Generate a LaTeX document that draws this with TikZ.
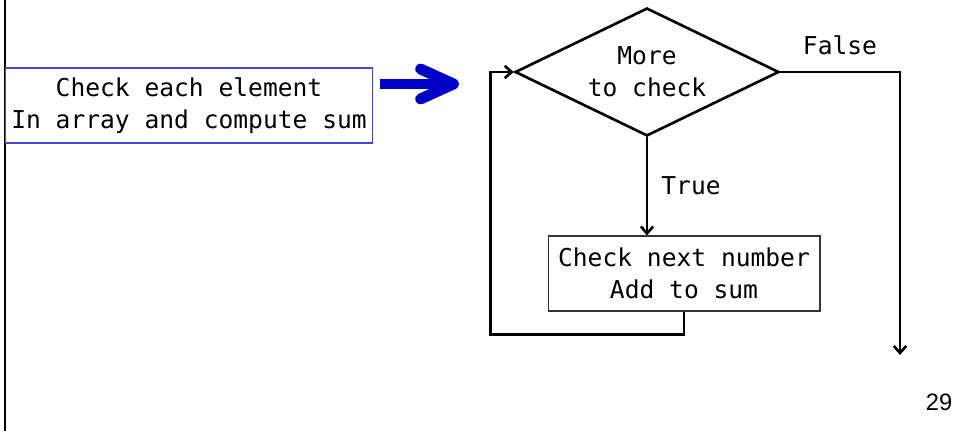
\documentclass[tikz,border=0pt]{standalone}
\usepackage{fontspec}
\setmainfont{Liberation Sans}
\setmonofont{DejaVu Sans Mono}
\usetikzlibrary{calc,arrows.meta,shapes.geometric}
\definecolor{arrowblue}{RGB}{0,0,200}
\definecolor{boxblue}{RGB}{70,70,220}

\begin{document}
\begin{tikzpicture}[x=0.02cm, y=-0.02cm,
	txt/.style={font=\ttfamily\fontsize{14}{18.1}\selectfont, align=center, inner sep=0pt},
	plainbox/.style={txt, draw=black!80, line width=0.6pt, minimum width=5.44cm, minimum height=1.5cm},
	bluebox/.style={txt, draw=boxblue, line width=0.6pt, minimum width=7.36cm, minimum height=1.5cm},
	decision/.style={txt, diamond, draw, line width=1.5pt, aspect=2, minimum width=5.28cm, minimum height=2.56cm},
	flow/.style={line width=1.5pt, -{Straight Barb[length=4pt,width=7pt]}},
	bigshaft/.style={line width=6.2pt, draw=arrowblue},
	bighead/.style={line width=6.2pt, draw=arrowblue, line cap=round, line join=round}]
			%%%%% START %%%%%
			
			\useasboundingbox (0,0) rectangle (953,431);
			
			\draw[line width=1.5pt] (5,0) -- (5,431);
			
			\node[bluebox] (entry) at (189,105.5) {Check each element\\In array and compute sum};
			
			\draw[bigshaft] ($(entry.east)+(7,-21.5)$) -- ++(72,0) coordinate (bigtip);
			\draw[bighead] ($(bigtip)+(-32,-15)$) -- ($(bigtip)+(1,0)$) -- ($(bigtip)+(-32,15)$);
			
			\node[decision] (check) at (647,72) {More\\to check};
			\node[plainbox] (work) at (684,273.5) {Check next number\\Add to sum};
			
			\coordinate (exit) at (900,355);
			\draw[flow] (check.east) -| (exit);
			\node[txt] (false) at (840,45) {False};
			
			\draw[flow] (check.south) -- (check.south |- work.north);
			\node[txt] (true) at (691,186) {True};
			
			\draw[flow] (work.south) -- ++(0,23) -| ($(check.west)+(-23,0)$) -- (check.west);
			
			\node[font=\fontsize{13.5}{16}\selectfont, inner sep=0pt] (page) at (939,402) {29};
			
			%%%%% END %%%%%
\end{tikzpicture}
\end{document}
